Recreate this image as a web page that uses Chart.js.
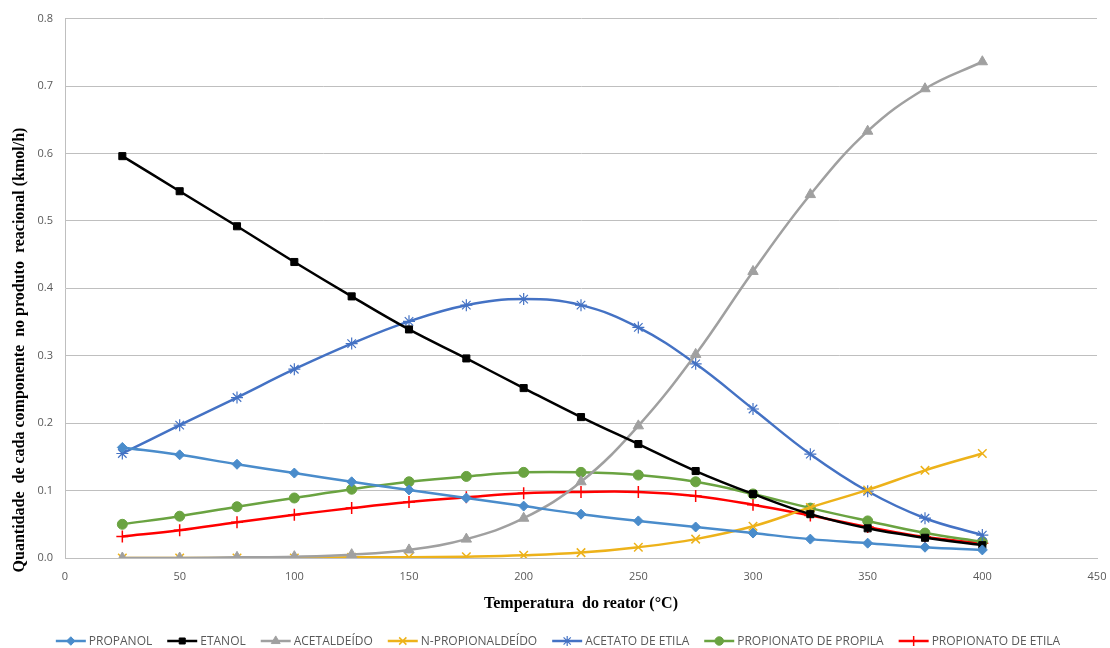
<!DOCTYPE html>
<html><head><meta charset="utf-8">
<script src="https://cdn.jsdelivr.net/npm/chart.js@4"></script>
<style>html,body{margin:0;padding:0;background:#fff;}</style>
</head><body>
<canvas id="c" width="1110" height="648"></canvas>
<script>
const temperatures = [25,50,75,100,125,150,175,200,225,250,275,300,325,350,375,400];
const propanol     = [0.164,0.153,0.139,0.126,0.113,0.101,0.089,0.077,0.065,0.055,0.046,0.037,0.028,0.022,0.016,0.012];
const etanol       = [0.596,0.544,0.492,0.439,0.388,0.339,0.296,0.252,0.209,0.169,0.129,0.095,0.065,0.044,0.030,0.019];
const acetaldeido  = [0.000,0.000,0.001,0.002,0.005,0.012,0.028,0.059,0.113,0.196,0.302,0.425,0.539,0.633,0.696,0.736];
const nPropional   = [0.000,0.000,0.000,0.000,0.001,0.001,0.002,0.004,0.008,0.016,0.028,0.047,0.075,0.101,0.130,0.155];
const acetatoEtila = [0.155,0.197,0.238,0.280,0.318,0.351,0.375,0.384,0.375,0.342,0.288,0.221,0.154,0.099,0.059,0.034];
const propPropila  = [0.050,0.062,0.076,0.089,0.102,0.113,0.121,0.127,0.127,0.123,0.113,0.095,0.074,0.055,0.037,0.024];
const propEtila    = [0.032,0.041,0.053,0.064,0.074,0.083,0.090,0.096,0.098,0.098,0.092,0.079,0.063,0.046,0.031,0.022];
const xTickValues  = [0,50,100,150,200,250,300,350,400,450];
const yTickValues  = [0,0.1,0.2,0.3,0.4,0.5,0.6,0.7,0.8];

const seriesNames = ['PROPANOL','ETANOL','ACETALDEÍDO','N-PROPIONALDEÍDO','ACETATO DE ETILA','PROPIONATO DE PROPILA','PROPIONATO DE ETILA'];
const seriesValues = [propanol, etanol, acetaldeido, nPropional, acetatoEtila, propPropila, propEtila];
const yTitleText = 'Quantidade  de cada componente  no produto  reacional (kmol/h)';
const xTitleText = 'Temperatura  do reator (°C)';

const styles = [
  {color:'#4A8CCB', point:'rectRot', r:5, bw:1},
  {color:'#000000', point:'rect', r:5, bw:1},
  {color:'#A0A0A0', point:'triangle', r:6, bw:1},
  {color:'#EDB21A', point:'crossRot', r:6, bw:1.5},
  {color:'#4472C4', point:'star', r:6, bw:1.2},
  {color:'#6AA341', point:'circle', r:5, bw:1},
  {color:'#FF0000', point:'cross', r:6, bw:1.5}
];

const datasets = seriesNames.map((name,i)=>({
  label: name,
  data: temperatures.map((t,j)=>({x:t, y:seriesValues[i][j]})),
  borderColor: styles[i].color,
  backgroundColor: styles[i].color,
  pointBackgroundColor: styles[i].color,
  pointBorderColor: styles[i].color,
  pointStyle: styles[i].point,
  pointRadius: styles[i].r,
  pointBorderWidth: styles[i].bw,
  borderWidth: 2.5,
  tension: 0.4,
  fill: false,
  order: i
}));

const customDecor = {
  id: 'customDecor',
  afterDraw(chart){
    const ctx = chart.ctx;
    ctx.save();
    ctx.translate(20, 350);
    ctx.rotate(-Math.PI/2);
    ctx.font = 'bold 16px "Liberation Serif"';
    ctx.fillStyle = '#000';
    ctx.textAlign = 'center';
    ctx.textBaseline = 'middle';
    ctx.fillText(yTitleText, 0, 0);
    ctx.restore();
    ctx.save();
    ctx.font = '12px "Open Sans"';
    const iconW = 30, gapIcon = 3, gapItem = 15;
    const widths = chart.data.datasets.map(d => ctx.measureText(d.label).width);
    const total = widths.reduce((a,w)=>a+iconW+gapIcon+w,0) + gapItem*(widths.length-1);
    let x = 558 - total/2;
    const y = 641;
    chart.data.datasets.forEach((d,i)=>{
      const st = styles[i];
      ctx.strokeStyle = st.color; ctx.lineWidth = 2.5;
      ctx.beginPath(); ctx.moveTo(x, y); ctx.lineTo(x+iconW, y); ctx.stroke();
      ctx.fillStyle = st.color; ctx.lineWidth = st.bw;
      Chart.helpers.drawPoint(ctx, {pointStyle: st.point, radius: st.r*0.85, rotation:0, borderWidth: st.bw}, x+iconW/2, y);
      ctx.fillStyle = '#595959';
      ctx.textAlign = 'left'; ctx.textBaseline = 'middle';
      ctx.fillText(d.label, x+iconW+gapIcon, y+0.5);
      x += iconW + gapIcon + widths[i] + gapItem;
    });
    ctx.restore();
  }
};

const tickFont = {family:'Open Sans', size:11};
new Chart(document.getElementById('c'), {
  type: 'line',
  data: { datasets },
  plugins: [customDecor],
  options: {
    responsive: false, animation: false, devicePixelRatio: 1,
    layout: {padding: {left: 0, right: 13, top: 18, bottom: 0}},
    plugins: { tooltip: {enabled:false}, legend: {display:false} },
    scales: {
      x: {
        type:'linear', min:0, max:450,
        afterBuildTicks: (s)=>{ s.ticks = xTickValues.map(v=>({value:v})); },
        grid: {display:false, drawTicks:false},
        border: {display:true, color:'#BFBFBF', width:1},
        ticks: {font: tickFont, color:'#595959', padding: 12},
        title: {display:true, text: xTitleText, font:{family:'Liberation Serif', size:16, weight:'bold'}, color:'#000', padding:{top:4,bottom:35}},
        afterFit: (s)=>{ s.height = 90; s.paddingRight = 0; s.paddingLeft = 0; }
      },
      y: {
        min:0, max:0.8,
        afterBuildTicks: (s)=>{ s.ticks = yTickValues.map(v=>({value:v})); },
        grid: {color:'#BFBFBF', lineWidth:1, drawTicks:false},
        border: {display:true, color:'#BFBFBF', width:1},
        ticks: {font: tickFont, color:'#595959', padding: 12, callback:(v)=>v.toFixed(1)},
        afterFit: (s)=>{ s.width = 65; }
      }
    }
  }
});
</script>
</body></html>
